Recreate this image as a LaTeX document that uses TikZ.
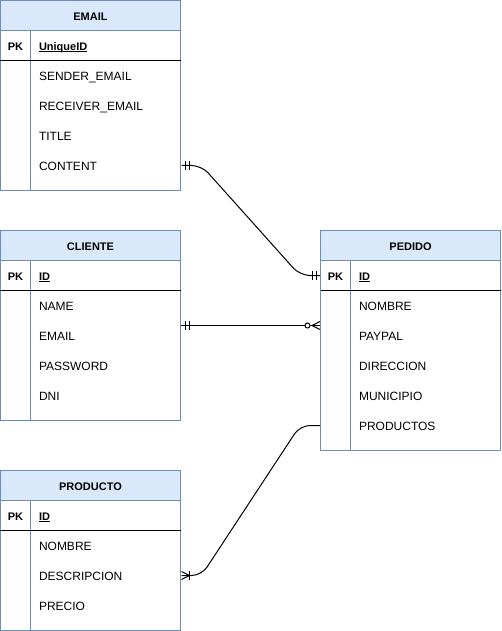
\documentclass[tikz,border=0pt]{standalone}
\usepackage{fontspec}
\setmainfont{Liberation Sans}
\usepackage{tikz}
\usetikzlibrary{arrows.meta, positioning, decorations.markings}

\definecolor{erblue}{HTML}{6C8EBF}
\definecolor{erfill}{HTML}{DAE8FC}

\newcommand{\keyfield}[1]{\setbox0\hbox{#1}\rlap{\rule[-1.8pt]{\wd0}{0.9pt}}\box0}

\tikzset{
  entity/.style={draw=erblue, fill=white, minimum width=180pt, inner sep=0pt},
  head/.style={draw=erblue, fill=erfill, minimum width=180pt, minimum height=30pt, inner sep=0pt,
    text height=11pt, text depth=1pt, font=\fontsize{11}{13}\selectfont\bfseries},
  pk/.style={minimum width=30pt, minimum height=30pt, inner sep=0pt,
    text height=11pt, text depth=1pt, font=\fontsize{11}{13}\selectfont\bfseries},
  attr/.style={anchor=west, minimum height=30pt, inner xsep=8pt, inner ysep=0pt, text width=134pt,
    align=left, text height=11pt, text depth=1pt, font=\fontsize{12}{14}\selectfont},
  key/.style={attr, font=\fontsize{11}{13}\selectfont\bfseries},
  divider/.style={draw=erblue},
  keyline/.style={draw=black},
  rel/.style={draw=black, rounded corners=10pt},
  mandatory start/.style={postaction={decorate, decoration={markings,
      mark=at position 4pt with {\draw (0,-4.5pt) -- (0,4.5pt);},
      mark=at position 8pt with {\draw (0,-4.5pt) -- (0,4.5pt);}}}},
  mandatory end/.style={postaction={decorate, decoration={markings,
      mark=at position -8pt with {\draw (0,-4.5pt) -- (0,4.5pt);},
      mark=at position -4pt with {\draw (0,-4.5pt) -- (0,4.5pt);}}}},
  zero many end/.style={postaction={decorate, decoration={markings,
      mark=at position -8pt with {\draw (0,0) -- (8pt,4pt) (0,0) -- (8pt,-4pt);
        \draw[fill=white] (-4.5pt,0) circle (2.5pt);}}}},
  one many end/.style={postaction={decorate, decoration={markings,
      mark=at position -8pt with {\draw (0,-4.5pt) -- (0,4.5pt);
        \draw (0,0) -- (8pt,4pt) (0,0) -- (8pt,-4pt);}}}},
}

\begin{document}
\begin{tikzpicture}[x=1pt, y=-1pt, line width=1pt]
  \useasboundingbox (-0.5,-0.5) rectangle (500.5,630.5);

  % EMAIL
  \node[entity, minimum height=190pt] (email) at (90,95) {};
  \node[head] (email-head) at (90,15) {EMAIL};
  \draw[divider] (30,30) -- (30,190);
  \draw[keyline] (0,60) -- (180,60);
  \node[pk] (email-pk) at (15,45) {PK};
  \node[key] (email-id) at (30,45) {\keyfield{UniqueID}};
  \node[attr] (email-sender) at (30,75) {SENDER\_EMAIL};
  \node[attr] (email-receiver) at (30,105) {RECEIVER\_EMAIL};
  \node[attr] (email-title) at (30,135) {TITLE};
  \node[attr] (email-content) at (30,165) {CONTENT};

  % CLIENTE
  \node[entity, minimum height=190pt] (cliente) at (90,325) {};
  \node[head] (cliente-head) at (90,245) {CLIENTE};
  \draw[divider] (30,260) -- (30,420);
  \draw[keyline] (0,290) -- (180,290);
  \node[pk] (cliente-pk) at (15,275) {PK};
  \node[key] (cliente-id) at (30,275) {\keyfield{ID}};
  \node[attr] (cliente-name) at (30,305) {NAME};
  \node[attr] (cliente-email) at (30,335) {EMAIL};
  \node[attr] (cliente-password) at (30,365) {PASSWORD};
  \node[attr] (cliente-dni) at (30,395) {DNI};

  % PEDIDO
  \node[entity, minimum height=220pt] (pedido) at (410,340) {};
  \node[head] (pedido-head) at (410,245) {PEDIDO};
  \draw[divider] (350,260) -- (350,450);
  \draw[keyline] (320,290) -- (500,290);
  \node[pk] (pedido-pk) at (335,275) {PK};
  \node[key] (pedido-id) at (350,275) {\keyfield{ID}};
  \node[attr] (pedido-nombre) at (350,305) {NOMBRE};
  \node[attr] (pedido-paypal) at (350,335) {PAYPAL};
  \node[attr] (pedido-direccion) at (350,365) {DIRECCION};
  \node[attr] (pedido-municipio) at (350,395) {MUNICIPIO};
  \node[attr] (pedido-productos) at (350,425) {PRODUCTOS};

  % PRODUCTO
  \node[entity, minimum height=160pt] (producto) at (90,550) {};
  \node[head] (producto-head) at (90,485) {PRODUCTO};
  \draw[divider] (30,500) -- (30,630);
  \draw[keyline] (0,530) -- (180,530);
  \node[pk] (producto-pk) at (15,515) {PK};
  \node[key] (producto-id) at (30,515) {\keyfield{ID}};
  \node[attr] (producto-nombre) at (30,545) {NOMBRE};
  \node[attr] (producto-descripcion) at (30,575) {DESCRIPCION};
  \node[attr] (producto-precio) at (30,605) {PRECIO};

  % Relations
  \draw[rel, mandatory start, mandatory end] (email-content.east) -- ++(20,0)
    -- ([xshift=-20pt]pedido-pk.west) -- (pedido-pk.west);
  \draw[rel, mandatory start, zero many end] (cliente.east) -- (cliente.east -| pedido.west);
  \draw[rel, one many end] (pedido-productos -| pedido.west) -- ++(-20,0)
    -- ([xshift=20pt]producto-descripcion.east) -- (producto-descripcion.east);
\end{tikzpicture}
\end{document}
